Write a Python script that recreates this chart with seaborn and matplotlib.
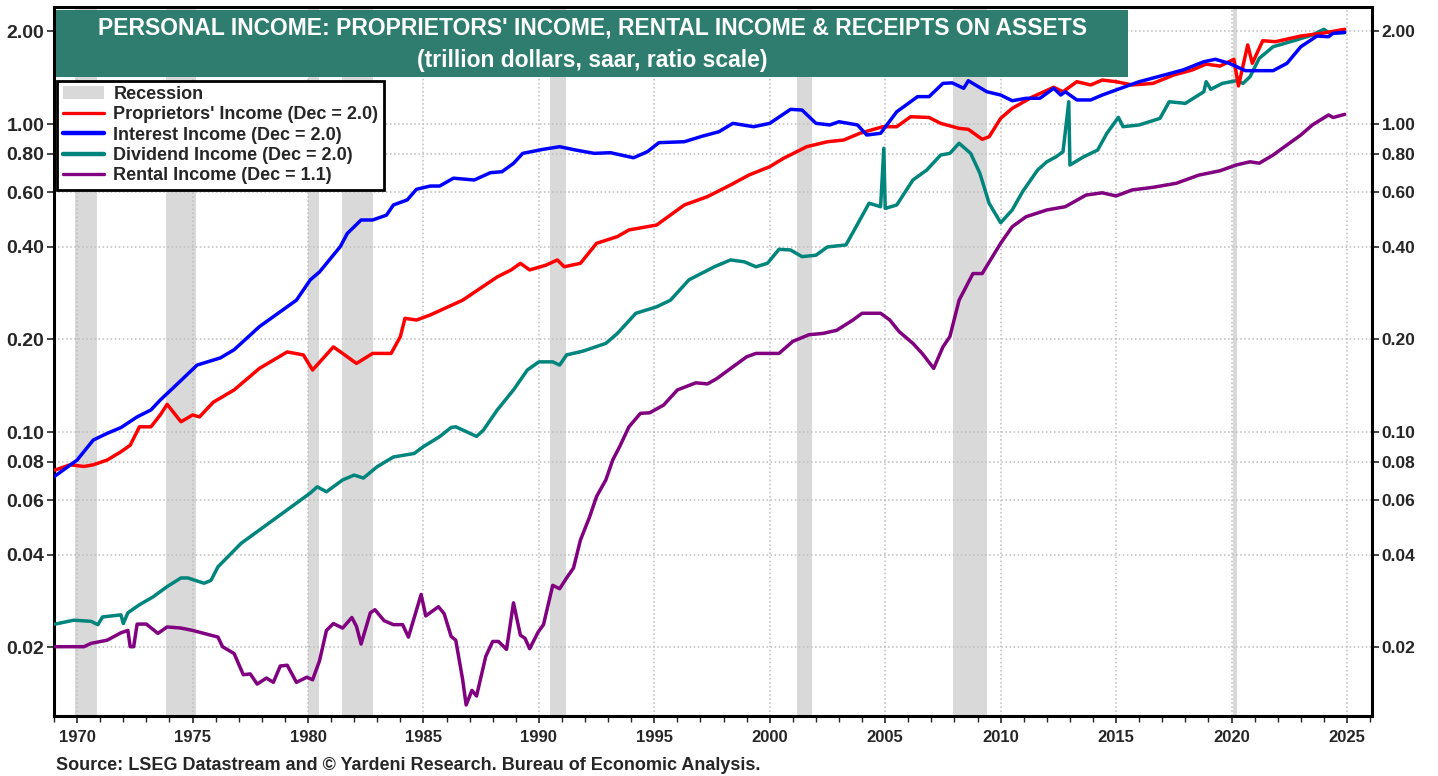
import matplotlib
matplotlib.use("Agg")
import matplotlib.pyplot as plt
import matplotlib.ticker as mticker
from matplotlib.patches import Patch, Rectangle
from matplotlib.lines import Line2D
import seaborn as sns

sns.set_style("white")
plt.rcParams["font.family"] = ["Liberation Sans", "DejaVu Sans"]
plt.rcParams["font.weight"] = "bold"

# recession periods
rec_start = [1969.92, 1973.87, 1980.02, 1981.49, 1990.48, 2001.16, 2007.94, 2020.07]
rec_end = [1970.86, 1975.15, 1980.49, 1982.81, 1991.18, 2001.81, 2009.41, 2020.25]

# interest income (trillion $)
int_x = [1969.0, 1970.0, 1970.7, 1971.3, 1971.9, 1972.6, 1973.2, 1973.6, 1974.2, 1975.2,
         1976.2, 1976.8, 1977.9, 1979.5, 1980.1, 1980.5, 1981.4, 1981.7, 1982.3, 1982.8,
         1983.4, 1983.7, 1984.3, 1984.7, 1985.3, 1985.7, 1986.3, 1987.2, 1987.9, 1988.4,
         1988.9, 1989.3, 1990.2, 1990.9, 1991.6, 1992.4, 1993.1, 1994.1, 1994.7, 1995.2,
         1996.3, 1997.1, 1997.8, 1998.4, 1999.3, 2000.0, 2000.9, 2001.4, 2002.0, 2002.6,
         2003.0, 2003.8, 2004.2, 2004.8, 2005.5, 2005.9, 2006.4, 2006.9, 2007.5, 2007.9,
         2008.4, 2008.6, 2009.4, 2010.0, 2010.5, 2011.1, 2011.7, 2012.3, 2012.6, 2012.8,
         2013.3, 2013.9, 2014.4, 2015.2, 2016.0, 2017.1, 2017.9, 2018.8, 2019.3, 2019.9,
         2020.6, 2021.8, 2022.4, 2023.0, 2023.7, 2024.2, 2024.4, 2024.9]
int_v = [0.0716, 0.0811, 0.0942, 0.099, 0.1034, 0.112, 0.118, 0.127, 0.140, 0.165,
         0.174, 0.185, 0.220, 0.268, 0.312, 0.331, 0.400, 0.441, 0.488, 0.488,
         0.506, 0.546, 0.567, 0.614, 0.629, 0.629, 0.667, 0.658, 0.695, 0.700,
         0.745, 0.803, 0.828, 0.844, 0.823, 0.803, 0.807, 0.777, 0.813, 0.870,
         0.876, 0.914, 0.944, 1.005, 0.980, 1.005, 1.116, 1.110, 1.005, 0.993,
         1.017, 0.993, 0.921, 0.933, 1.096, 1.152, 1.227, 1.227, 1.355, 1.360,
         1.306, 1.382, 1.273, 1.242, 1.190, 1.212, 1.212, 1.306, 1.242, 1.273,
         1.197, 1.197, 1.242, 1.306, 1.372, 1.443, 1.498, 1.593, 1.622, 1.574,
         1.490, 1.490, 1.574, 1.782, 1.930, 1.920, 1.970, 1.985]

# proprietors' income
pro_x = [1969.05, 1969.7, 1970.3, 1970.7, 1971.3, 1971.9, 1972.3, 1972.7, 1973.2, 1973.6,
         1973.9, 1974.5, 1975.0, 1975.3, 1975.9, 1976.8, 1977.9, 1979.1, 1979.8, 1980.2,
         1981.1, 1981.5, 1982.1, 1982.8, 1983.6, 1984.0, 1984.2, 1984.7, 1985.3, 1986.7,
         1988.2, 1988.8, 1989.2, 1989.6, 1990.3, 1990.8, 1991.1, 1991.8, 1992.5, 1993.4,
         1993.9, 1995.1, 1996.3, 1997.3, 1998.3, 1999.1, 2000.0, 2000.6, 2001.6, 2002.5,
         2003.2, 2003.9, 2004.9, 2005.5, 2006.1, 2006.9, 2007.4, 2008.2, 2008.6, 2009.2,
         2009.5, 2010.0, 2010.5, 2011.4, 2012.3, 2012.7, 2013.3, 2013.9, 2014.4, 2015.0,
         2015.7, 2016.6, 2017.5, 2018.3, 2018.9, 2019.5, 2020.1, 2020.3, 2020.7, 2020.9,
         2021.35, 2021.9, 2023.0, 2023.9, 2024.9]
pro_v = [0.0753, 0.0783, 0.0773, 0.0783, 0.0811, 0.0863, 0.0906, 0.104, 0.104, 0.1136,
         0.123, 0.108, 0.1136, 0.112, 0.125, 0.137, 0.161, 0.182, 0.178, 0.159,
         0.189, 0.180, 0.167, 0.180, 0.180, 0.204, 0.234, 0.231, 0.240, 0.268,
         0.319, 0.336, 0.353, 0.336, 0.348, 0.362, 0.344, 0.353, 0.410, 0.431,
         0.453, 0.470, 0.546, 0.581, 0.634, 0.683, 0.727, 0.774, 0.844, 0.876,
         0.887, 0.933, 0.980, 0.980, 1.056, 1.050, 1.005, 0.968, 0.961, 0.892,
         0.909, 1.043, 1.124, 1.227, 1.316, 1.273, 1.372, 1.339, 1.389, 1.372,
         1.339, 1.355, 1.443, 1.498, 1.565, 1.542, 1.622, 1.329, 1.806, 1.574,
         1.864, 1.850, 1.930, 1.970, 2.030]

# dividend income
div_x = [1969.05, 1969.85, 1970.6, 1970.9, 1971.1, 1971.9, 1972.0, 1972.2, 1972.7, 1973.3,
         1973.9, 1974.5, 1974.8, 1975.5, 1975.8, 1976.1, 1977.1, 1977.9, 1979.1, 1980.1,
         1980.4, 1980.8, 1981.5, 1982.0, 1982.4, 1983.0, 1983.7, 1984.6, 1985.0, 1985.7,
         1986.2, 1986.4, 1987.3, 1987.6, 1988.2, 1988.9, 1989.5, 1990.0, 1990.6, 1990.9,
         1991.2, 1991.9, 1992.9, 1993.4, 1994.2, 1995.1, 1995.7, 1996.5, 1997.6, 1998.3,
         1998.9, 1999.4, 1999.9, 2000.4, 2000.9, 2001.4, 2002.0, 2002.5, 2002.9, 2003.3,
         2003.9, 2004.3, 2004.8, 2004.94, 2005.0, 2005.5, 2006.2, 2006.8, 2007.4, 2007.8,
         2008.2, 2008.7, 2009.1, 2009.5, 2010.0, 2010.5, 2010.95, 2011.6, 2012.0, 2012.4,
         2012.7, 2012.95, 2013.0, 2013.6, 2014.2, 2014.6, 2015.1, 2015.3, 2016.0, 2016.9,
         2017.3, 2018.0, 2018.8, 2018.9, 2019.1, 2019.6, 2020.2, 2020.5, 2020.8, 2021.2,
         2021.8, 2022.7, 2023.5, 2024.0, 2024.25, 2024.9]
div_v = [0.0238, 0.0245, 0.0243, 0.0237, 0.0251, 0.0255, 0.0239, 0.0259, 0.0275, 0.0292,
         0.0315, 0.0336, 0.0336, 0.0323, 0.0330, 0.0365, 0.0435, 0.0481, 0.0559, 0.0634,
         0.0664, 0.0640, 0.0699, 0.0725, 0.0709, 0.0772, 0.0830, 0.0852, 0.0897, 0.0966,
         0.1035, 0.104, 0.0968, 0.1015, 0.118, 0.137, 0.159, 0.169, 0.169, 0.165,
         0.178, 0.183, 0.194, 0.209, 0.243, 0.255, 0.268, 0.312, 0.344, 0.362,
         0.357, 0.344, 0.353, 0.392, 0.390, 0.371, 0.375, 0.399, 0.402, 0.405,
         0.488, 0.553, 0.539, 0.834, 0.532, 0.546, 0.658, 0.709, 0.793, 0.803,
         0.866, 0.803, 0.692, 0.553, 0.478, 0.526, 0.603, 0.709, 0.754, 0.783,
         0.813, 1.181, 0.736, 0.783, 0.823, 0.933, 1.051, 0.980, 0.993, 1.043,
         1.181, 1.167, 1.273, 1.372, 1.296, 1.355, 1.382, 1.355, 1.424, 1.634,
         1.782, 1.864, 1.945, 2.030, 1.970, 1.980]

# rental income
ren_x = [1969.05, 1970.3, 1970.6, 1971.3, 1971.9, 1972.2, 1972.3, 1972.45, 1972.6, 1973.0,
         1973.5, 1973.9, 1974.5, 1975.0, 1976.1, 1976.3, 1976.8, 1977.2, 1977.5, 1977.8,
         1978.2, 1978.5, 1978.8, 1979.1, 1979.5, 1979.95, 1980.2, 1980.5, 1980.8, 1981.1,
         1981.5, 1981.9, 1982.1, 1982.3, 1982.7, 1982.9, 1983.3, 1983.7, 1984.1, 1984.35,
         1984.9, 1985.1, 1985.65, 1985.9, 1986.2, 1986.4, 1986.7, 1986.85, 1987.1, 1987.3,
         1987.7, 1988.0, 1988.25, 1988.6, 1988.9, 1989.2, 1989.4, 1989.6, 1989.98, 1990.2,
         1990.6, 1990.9, 1991.2, 1991.5, 1991.8, 1992.2, 1992.5, 1992.9, 1993.2, 1993.5,
         1993.9, 1994.4, 1994.8, 1995.4, 1996.0, 1996.8, 1997.3, 1997.7, 1998.4, 1999.0,
         1999.4, 2000.4, 2001.0, 2001.7, 2002.3, 2002.9, 2003.6, 2004.0, 2004.8, 2005.2,
         2005.6, 2006.2, 2006.6, 2007.1, 2007.5, 2007.8, 2008.2, 2008.8, 2009.2, 2010.0,
         2010.5, 2011.1, 2012.0, 2012.8, 2013.7, 2014.4, 2015.0, 2015.7, 2016.6, 2017.6,
         2018.6, 2019.5, 2020.2, 2020.8, 2021.2, 2021.8, 2022.2, 2023.0, 2023.5, 2024.2,
         2024.4, 2024.9]
ren_v = [0.0201, 0.0201, 0.0206, 0.0211, 0.0223, 0.0227, 0.0201, 0.0201, 0.0238, 0.0238,
         0.0222, 0.0233, 0.0231, 0.0227, 0.0216, 0.0201, 0.0191, 0.0163, 0.0164, 0.0152,
         0.0159, 0.0154, 0.0174, 0.0175, 0.0154, 0.0160, 0.0157, 0.0181, 0.0227, 0.0239,
         0.0231, 0.0250, 0.0234, 0.0205, 0.0259, 0.0265, 0.0244, 0.0237, 0.0237, 0.0216,
         0.0297, 0.0253, 0.0271, 0.0257, 0.0217, 0.0211, 0.0157, 0.0130, 0.0145, 0.0139,
         0.0187, 0.0209, 0.0209, 0.0197, 0.0279, 0.0219, 0.0214, 0.0198, 0.0225, 0.0237,
         0.0318, 0.0310, 0.0336, 0.0362, 0.0446, 0.0531, 0.0618, 0.0699, 0.0812, 0.0897,
         0.104, 0.115, 0.1155, 0.1223, 0.137, 0.1445, 0.1433, 0.149, 0.1628, 0.1755,
         0.180, 0.180, 0.197, 0.207, 0.209, 0.214, 0.231, 0.243, 0.243, 0.231,
         0.212, 0.194, 0.180, 0.161, 0.189, 0.204, 0.268, 0.327, 0.327, 0.410,
         0.464, 0.500, 0.526, 0.539, 0.588, 0.598, 0.584, 0.611, 0.623, 0.642,
         0.683, 0.705, 0.736, 0.754, 0.746, 0.793, 0.834, 0.921, 0.993, 1.070,
         1.050, 1.075]

y_ticks = [0.02, 0.04, 0.06, 0.08, 0.10, 0.20, 0.40, 0.60, 0.80, 1.00, 2.00]

c_pro = "#FF0000"
c_int = "#0000FF"
c_div = "#00857C"
c_ren = "#800080"
c_rec = "#D9D9D9"

fig = plt.figure(figsize=(14.38, 7.76), dpi=100)
ax = fig.add_axes([54 / 1438, 1 - 715.7 / 776, 1317.7 / 1438, 709.2 / 776])

for s, e in zip(rec_start, rec_end):
    ax.axvspan(s, e, color=c_rec, lw=0, zorder=0.2)

for xs, ys, c in [(ren_x, ren_v, c_ren), (div_x, div_v, c_div),
                  (pro_x, pro_v, c_pro), (int_x, int_v, c_int)]:
    sns.lineplot(x=xs, y=ys, color=c, linewidth=2.5, ax=ax,
                 estimator=None, sort=False, legend=False, zorder=3)

ax.set_yscale("log")
ax.set_ylim(0.0120, 2.407)
ax.set_xlim(1969.0, 2026.07)
ax.yaxis.set_major_locator(mticker.FixedLocator(y_ticks))
ax.yaxis.set_major_formatter(mticker.FormatStrFormatter("%.2f"))
ax.yaxis.set_minor_locator(mticker.NullLocator())
ax.xaxis.set_major_locator(mticker.MultipleLocator(5))
ax.xaxis.set_minor_locator(mticker.MultipleLocator(1))
ax.xaxis.set_major_formatter(mticker.FormatStrFormatter("%d"))

ax.tick_params(axis="y", which="major", direction="out", length=5, width=1.2,
               left=True, right=True, labelleft=True, labelright=True, pad=2)
ax.tick_params(axis="x", which="major", direction="out", length=5, width=1.2,
               bottom=True, labelsize=12, pad=5)
ax.tick_params(axis="x", which="minor", direction="out", length=4, width=1,
               bottom=True)
for t in ax.yaxis.get_major_ticks():
    t.label1.set_fontsize(14)
    t.label2.set_fontsize(12.5)
ax.set_xlabel("")
ax.set_ylabel("")

ax.grid(True, which="major", linestyle=":", color="#BDBDBD", linewidth=1.1)
ax.set_axisbelow(True)
for sp in ax.spines.values():
    sp.set_color("black")
    sp.set_linewidth(2.2)

handles = [Patch(facecolor=c_rec, edgecolor="none"),
           Line2D([], [], color=c_pro, lw=2.4),
           Line2D([], [], color=c_int, lw=3.2),
           Line2D([], [], color=c_div, lw=3.2),
           Line2D([], [], color=c_ren, lw=2.4)]
labels = ["Recession", "Proprietors' Income (Dec = 2.0)", "Interest Income (Dec = 2.0)",
          "Dividend Income (Dec = 2.0)", "Rental Income (Dec = 1.1)"]
leg = ax.legend(handles, labels, loc="upper left", bbox_to_anchor=(0.0025, 0.8954),
                borderaxespad=0, fancybox=False, framealpha=1, edgecolor="black",
                fontsize=13, handlelength=2.3, handletextpad=0.5, labelspacing=0.18,
                borderpad=0.3)
leg.get_frame().set_linewidth(2)
leg.set_zorder(5)

# title banner
fig.patches.append(Rectangle((56 / 1438, 1 - 77 / 776), (1127.7 - 56) / 1438, 67 / 776,
                             transform=fig.transFigure, facecolor="#2E7D6F",
                             edgecolor="none", zorder=2))
fig.text(592 / 1438, 1 - 28 / 776,
         "PERSONAL INCOME: PROPRIETORS' INCOME, RENTAL INCOME & RECEIPTS ON ASSETS",
         ha="center", va="center", color="white", fontsize=16.5, fontweight="bold", zorder=3)
fig.text(592 / 1438, 1 - 60 / 776, "(trillion dollars, saar, ratio scale)",
         ha="center", va="center", color="white", fontsize=16.5, fontweight="bold", zorder=3)

fig.text(56 / 1438, 1 - 765 / 776,
         "Source: LSEG Datastream and \u00a9 Yardeni Research. Bureau of Economic Analysis.",
         ha="left", va="center", fontsize=13, fontweight="bold")

fig.savefig("out.png", dpi=100)
